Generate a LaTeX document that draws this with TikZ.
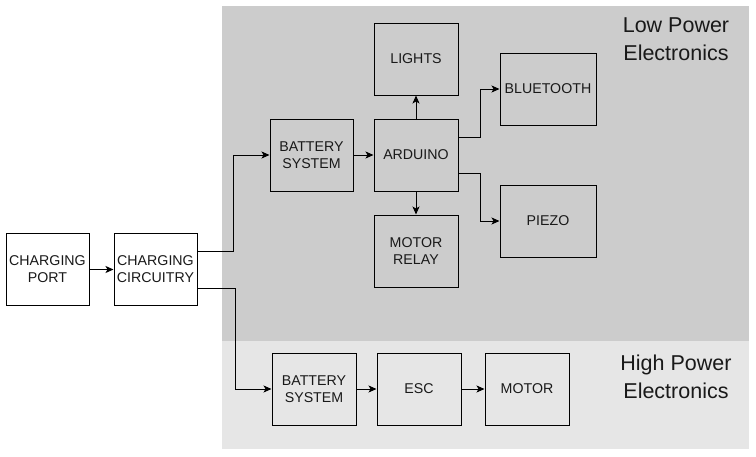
\documentclass[tikz,border=0pt]{standalone}
\usepackage{fontspec}
\setmainfont{Liberation Sans}
\usetikzlibrary{arrows.meta}
\definecolor{lowbg}{HTML}{CCCCCC}
\definecolor{highbg}{HTML}{E6E6E6}
\begin{document}
\begin{tikzpicture}[x=1pt,y=-1pt,
  blk/.style={draw=black,line width=1pt,minimum width=#1,minimum height=72pt,inner sep=0pt,align=center,font=\fontsize{14.2}{17}\selectfont,text=black!90},
  blk/.default=84pt,
  conn/.style={line width=1pt,-{Stealth[length=8pt,width=7pt,inset=2pt]}},
  region/.style={font=\fontsize{21.5}{28}\selectfont,align=center,text=black!90}]
\useasboundingbox (0,0) rectangle (756,456);
\fill[lowbg] (222,6) rectangle (749,341);
\fill[highbg] (222,341) rectangle (749,449);
\node[region] (lowlbl) at (676,39) {Low Power\\Electronics};
\node[region] (highlbl) at (676,377) {High Power\\Electronics};

\node[blk=83pt,fill=white] (port) at (47.5,269.5) {CHARGING\\PORT};
\node[blk=83pt,fill=white] (circ) at (155.5,269.5) {CHARGING\\CIRCUITRY};
\node[blk=83pt] (bat1) at (311.5,155) {BATTERY\\SYSTEM};
\node[blk] (ard) at (416,155) {ARDUINO};
\node[blk] (lights) at (416,59) {LIGHTS};
\node[blk] (relay) at (416,251) {MOTOR\\RELAY};
\node[blk=96pt] (bt) at (548,89) {BLUETOOTH};
\node[blk=96pt] (piezo) at (548,221) {PIEZO};
\node[blk] (bat2) at (314,389) {BATTERY\\SYSTEM};
\node[blk] (esc) at (419,389) {ESC};
\node[blk] (motor) at (527,389) {MOTOR};

\draw[conn] (port) -- (circ);
\draw[conn] (circ.east |- 0,251) -| (233,155) -- (bat1.west);
\draw[conn] (circ.east |- 0,288) -| (235,389) -- (bat2.west);
\draw[conn] (bat1) -- (ard);
\draw[conn] (ard) -- (lights);
\draw[conn] (ard) -- (relay);
\draw[conn] (ard.east |- 0,137) -| (480,89) -- (bt.west);
\draw[conn] (ard.east |- 0,173) -| (480,221) -- (piezo.west);
\draw[conn] (bat2) -- (esc);
\draw[conn] (esc) -- (motor);
\end{tikzpicture}
\end{document}
